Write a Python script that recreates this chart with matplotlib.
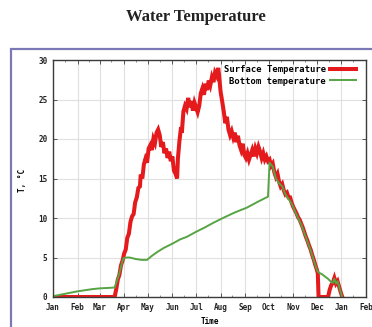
import matplotlib
matplotlib.use("Agg")
import matplotlib.pyplot as plt
from matplotlib.patches import Rectangle
from matplotlib.ticker import FixedLocator

# day of year (Jan 1 = 0) and temperature, degC
surface_days = [0, 78, 80, 82, 84, 86, 88, 90, 92, 94, 96, 98, 100, 102, 104, 106, 108,
                110, 111, 113, 115, 117, 119, 121, 123, 125, 127, 129, 131, 133, 135, 137,
                139, 141, 143, 145, 147, 149, 151, 153, 155, 157, 158, 160, 162, 163, 165,
                167, 169, 171, 173, 175, 177, 179, 181, 183, 185, 187, 189, 191, 193, 195,
                197, 199, 201, 203, 205, 207, 209, 210, 212, 214, 216, 218, 220, 222, 224,
                226, 228, 230, 232, 234, 236, 238, 240, 242, 244, 246, 248, 250, 252, 254,
                256, 258, 260, 262, 264, 266, 268, 270, 272, 274, 276, 278, 280, 282, 284,
                286, 288, 290, 292, 294, 296, 298, 300, 302, 304, 306, 308, 310, 312, 314,
                316, 318, 320, 322, 324, 326, 328, 330, 332, 334, 335, 336, 348, 350, 352,
                354, 356, 358, 360, 362, 364, 366]
surface_temp = [0.0, 0.0, 1.0, 2.2, 2.8, 4.0, 4.6, 5.5, 6.0, 7.5, 8.0, 9.5, 10.2, 10.5, 12.0,
                12.6, 13.8, 14.0, 15.5, 15.0, 16.8, 17.5, 17.0, 18.8, 19.2, 18.6, 20.0, 19.5,
                20.8, 21.2, 20.5, 19.0, 19.6, 18.2, 18.8, 17.6, 18.4, 17.2, 17.8, 16.0, 15.6,
                15.0, 17.5, 19.8, 21.5, 20.8, 23.5, 24.2, 23.8, 25.2, 24.0, 24.8, 23.6, 24.6,
                24.0, 23.4, 24.2, 25.8, 26.4, 25.6, 27.0, 26.2, 27.4, 26.8, 27.8, 27.2, 28.4,
                28.0, 29.0, 28.2, 26.0, 24.8, 23.5, 22.0, 22.8, 21.2, 20.5, 21.0, 20.2, 20.8,
                19.6, 20.4, 19.2, 18.6, 19.4, 18.0, 17.6, 18.2, 17.4, 18.0, 18.6, 17.8, 18.8,
                18.2, 19.0, 18.4, 17.6, 18.2, 17.4, 17.8, 17.2, 17.4, 16.6, 16.9, 15.8, 15.2,
                15.6, 14.6, 14.0, 14.3, 13.5, 13.0, 13.2, 12.6, 12.6, 11.9, 11.4, 11.0, 10.6,
                10.1, 9.8, 9.3, 8.8, 8.2, 7.6, 7.1, 6.5, 6.0, 5.3, 4.7, 4.0, 3.4, 3.0, 0.0,
                0.0, 0.9, 1.5, 1.8, 2.4, 1.7, 2.0, 1.3, 0.6, 0.0]

bottom_days = [0, 10, 20, 30, 40, 50, 60, 70, 78, 80, 84, 87, 89, 93, 97, 105, 112, 119,
               125, 132, 140, 152, 161, 169, 180, 192, 203, 215, 230, 245, 260, 272, 274,
               278, 282, 286, 290, 294, 298, 302, 306, 310, 314, 318, 322, 326, 330, 334,
               336, 340, 344, 348, 350, 352, 354, 356, 358, 360, 362, 364, 366]
bottom_temp = [0.1, 0.3, 0.5, 0.7, 0.85, 1.0, 1.1, 1.15, 1.2, 1.8, 3.0, 4.2, 4.9, 5.0, 5.0,
               4.8, 4.7, 4.7, 5.2, 5.7, 6.2, 6.8, 7.3, 7.6, 8.2, 8.8, 9.4, 10.0, 10.7, 11.3,
               12.1, 12.7, 17.0, 16.5, 15.0, 14.4, 14.0, 13.0, 12.4, 11.8, 10.9, 10.0, 9.2,
               8.1, 7.0, 5.9, 4.6, 3.4, 3.1, 2.9, 2.6, 2.3, 2.1, 1.9, 1.8, 2.3, 1.7, 2.0,
               1.3, 0.6, 0.0]

month_starts = [0, 31, 59, 90, 120, 151, 181, 212, 243, 273, 304, 334, 365, 396]
month_labels = ['Jan', 'Feb', 'Mar', 'Apr', 'May', 'Jun', 'Jul', 'Aug', 'Sep', 'Oct',
                'Nov', 'Dec', 'Jan', 'Feb']
temp_ticks = [0, 5, 10, 15, 20, 25, 30]

W, H = 372, 327
mono = {'family': 'DejaVu Sans Mono', 'weight': 'bold', 'size': 5.5}
mono_leg = {'family': 'DejaVu Sans Mono', 'weight': 'bold', 'size': 6.4}

fig = plt.figure(figsize=(W / 100, H / 100), dpi=100)
fig.patch.set_facecolor('white')

# outer frame
fig.add_artist(Rectangle((11 / W, -0.1), 1.2, 1 - 49 / H + 0.1,
                         transform=fig.transFigure, fill=False,
                         edgecolor='#7b78b6', lw=1.6))

fig.text(196 / W, 1 - 17 / H, 'Water Temperature', ha='center', va='center',
         family='Liberation Serif', weight='bold', size=12, color='#222222')

ax = fig.add_axes([53 / W, 1 - 297 / H, (366 - 53) / W, (297 - 60) / H])
ax.plot(surface_days, surface_temp, color='#e41a1c', lw=2.9,
        solid_joinstyle='miter', label='Surface Temperature')
ax.plot(bottom_days, bottom_temp, color='#56a443', lw=1.4,
        label='Bottom temperature')

ax.set_xlim(0, 396)
ax.set_ylim(0, 30)
ax.set_xticks(month_starts)
ax.set_xticklabels(month_labels, fontdict=mono)
ax.xaxis.set_minor_locator(FixedLocator([d + 15 for d in month_starts[:-1]]))
ax.set_yticks(temp_ticks)
ax.set_yticklabels([str(t) for t in temp_ticks], fontdict=mono)
ax.tick_params(which='major', direction='in', length=3, width=0.7, color='#555555',
               top=True, right=True, pad=4, labelcolor='#222222')
ax.tick_params(which='minor', direction='in', length=1.5, width=0.6, color='#777777',
               top=True)
ax.grid(True, which='major', color='#e0e0e0', lw=0.8)
ax.set_axisbelow(True)
for sp in ax.spines.values():
    sp.set_color('#3a3a3a')
    sp.set_linewidth(1.0)

leg = ax.legend(loc='upper right', frameon=False, markerfirst=False,
                prop=mono_leg, handlelength=2.9, handletextpad=0.5,
                labelspacing=0.25, borderaxespad=0.2,
                bbox_to_anchor=(0.985, 1.0))

fig.text(22 / W, 1 - 180 / H, 'T, °C', rotation=90, ha='center', va='center',
         fontdict=mono)
fig.text(210 / W, 1 - 322 / H, 'Time', ha='center', va='center', fontdict=mono)

fig.savefig('out.png', dpi=100)
